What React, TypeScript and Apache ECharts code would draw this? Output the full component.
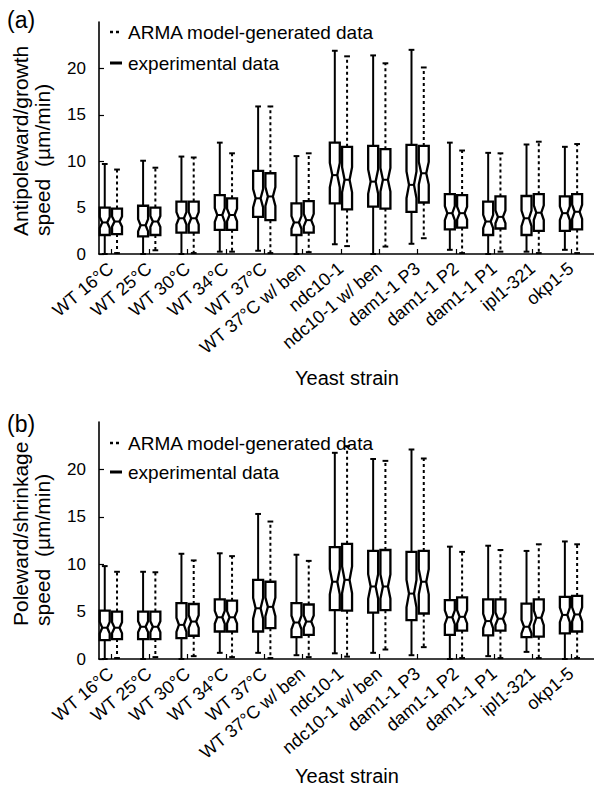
import React, { useEffect, useRef } from "react";
import * as echarts from "echarts";

const strains = [
  "WT 16°C", "WT 25°C", "WT 30°C", "WT 34°C", "WT 37°C", "WT 37°C w/ ben",
  "ndc10-1", "ndc10-1 w/ ben", "dam1-1 P3", "dam1-1 P2", "dam1-1 P1", "ipl1-321", "okp1-5",
];
const strainTicks = [1, 2, 3, 4, 5, 6, 7, 8, 9, 10, 11, 12, 13];
const yTicks = [0, 5, 10, 15, 20];

// each row: [lower whisker, Q1, median, Q3, upper whisker] in µm/min
const growthExperimental = [
  [0, 2.05, 3.4, 5.0, 9.7],
  [0, 1.9, 3.1, 5.2, 10.05],
  [0, 2.3, 3.85, 5.65, 10.5],
  [0.25, 2.6, 4.2, 6.35, 12.0],
  [0.35, 4.0, 6.0, 8.95, 15.9],
  [0, 2.05, 3.4, 5.45, 10.55],
  [1.05, 5.45, 8.5, 12.0, 21.9],
  [0, 5.1, 7.8, 11.65, 21.4],
  [1.1, 4.55, 7.45, 11.75, 22.0],
  [0.45, 2.65, 4.4, 6.45, 12.0],
  [0, 2.05, 3.5, 5.65, 10.9],
  [0.25, 2.05, 3.85, 6.25, 11.8],
  [0.45, 2.5, 4.4, 6.2, 11.55],
];
const growthArma = [
  [0.1, 2.15, 3.5, 4.9, 9.1],
  [0.4, 2.05, 3.5, 5.0, 9.3],
  [0.1, 2.3, 3.85, 5.65, 10.4],
  [0.25, 2.6, 4.2, 6.0, 10.85],
  [0.1, 3.65, 6.2, 8.7, 15.9],
  [0.2, 2.3, 3.65, 5.7, 10.85],
  [0.85, 4.8, 8.0, 11.55, 21.3],
  [0.8, 4.9, 8.0, 11.3, 20.55],
  [1.7, 5.55, 8.7, 11.65, 20.1],
  [0.1, 2.85, 4.4, 6.35, 11.15],
  [0.25, 2.75, 4.0, 6.2, 10.85],
  [0.1, 2.5, 4.45, 6.45, 12.1],
  [0.1, 2.65, 4.55, 6.45, 11.85],
];
const shrinkExperimental = [
  [0, 2.0, 3.3, 5.1, 9.8],
  [0, 2.1, 3.4, 5.0, 9.2],
  [0, 2.2, 3.6, 5.9, 11.1],
  [0.65, 2.9, 4.4, 6.3, 11.15],
  [0.65, 2.9, 5.35, 8.35, 15.3],
  [0.4, 2.3, 3.85, 5.9, 11.0],
  [0.6, 5.15, 8.15, 11.8, 21.75],
  [0.65, 4.9, 7.65, 11.4, 21.1],
  [0.4, 4.1, 6.9, 11.3, 22.1],
  [0, 2.55, 4.4, 6.2, 11.85],
  [0.3, 2.5, 4.0, 6.3, 11.95],
  [0.75, 2.3, 3.4, 5.85, 11.4],
  [0, 2.7, 4.65, 6.55, 12.4],
];
const shrinkArma = [
  [0.1, 2.1, 3.3, 5.0, 9.2],
  [0.2, 2.1, 3.4, 5.0, 9.15],
  [0.3, 2.45, 3.95, 5.8, 10.4],
  [0.2, 2.9, 4.4, 6.15, 10.85],
  [0.1, 3.25, 5.5, 8.15, 14.5],
  [0.2, 2.55, 3.95, 5.75, 10.35],
  [0.25, 5.1, 8.35, 12.15, 22.45],
  [1.0, 5.15, 7.65, 11.5, 20.9],
  [1.25, 4.8, 8.15, 11.4, 21.15],
  [0.1, 3.0, 4.45, 6.5, 11.3],
  [0.1, 3.0, 4.25, 6.3, 11.5],
  [0.1, 2.35, 4.35, 6.3, 12.1],
  [0.1, 2.9, 4.7, 6.65, 12.1],
];

const FONT = "'Liberation Sans', Arial, Helvetica, sans-serif";

function boxSeries(name: string, stats: number[][], axisIndex: number, offset: number, dashed: boolean) {
  return {
    type: "custom",
    name,
    xAxisIndex: axisIndex,
    yAxisIndex: axisIndex,
    data: stats.map((s, i) => [strainTicks[i], ...s]),
    encode: { x: 0, y: [1, 2, 3, 4, 5] },
    renderItem: (params: any, api: any) => {
      const g = api.value(0) + offset;
      const lo = api.value(1), q1 = api.value(2), md = api.value(3), q3 = api.value(4), hi = api.value(5);
      const c = (v: number) => api.coord([g, v]);
      const xc = c(md)[0];
      const hw = api.size([0.13, 0])[0];
      const cw = api.size([0.075, 0])[0];
      const hn = hw * 0.5;
      const nd = 0.2 * (q3 - q1);
      const yLo = c(lo)[1], yQ1 = c(q1)[1], yMd = c(md)[1], yQ3 = c(q3)[1], yHi = c(hi)[1];
      const yNt = c(Math.min(q3, md + nd))[1];
      const yNb = c(Math.max(q1, md - nd))[1];
      const wStyle = { stroke: "#000", lineWidth: 2, lineDash: dashed ? [3, 3] : null, fill: null };
      const cStyle = { stroke: "#000", lineWidth: 2 };
      return {
        type: "group",
        children: [
          { type: "line", shape: { x1: xc, y1: yQ3, x2: xc, y2: yHi }, style: wStyle },
          { type: "line", shape: { x1: xc, y1: yQ1, x2: xc, y2: yLo }, style: wStyle },
          { type: "line", shape: { x1: xc - cw, y1: yHi, x2: xc + cw, y2: yHi }, style: cStyle },
          { type: "line", shape: { x1: xc - cw, y1: yLo, x2: xc + cw, y2: yLo }, style: cStyle },
          {
            type: "polygon",
            shape: {
              points: [
                [xc - hw, yQ3], [xc + hw, yQ3], [xc + hw, yNt], [xc + hn, yMd], [xc + hw, yNb],
                [xc + hw, yQ1], [xc - hw, yQ1], [xc - hw, yNb], [xc - hn, yMd], [xc - hw, yNt],
              ],
            },
            style: { fill: "#fff", stroke: "#000", lineWidth: 2.3, lineJoin: "miter" },
          },
          { type: "line", shape: { x1: xc - hn, y1: yMd, x2: xc + hn, y2: yMd }, style: { stroke: "#000", lineWidth: 2 } },
        ],
      };
    },
  };
}

function xAxisDef(gridIndex: number) {
  return {
    type: "value",
    gridIndex,
    min: 0.69,
    max: 13.6,
    axisLine: { show: true, onZero: false, lineStyle: { color: "#000", width: 1.6 } },
    axisTick: { show: true, inside: true, length: 5, customValues: strainTicks, lineStyle: { color: "#000", width: 1.2 } },
    axisLabel: {
      show: true,
      customValues: strainTicks,
      formatter: (v: number) => strains[Math.round(v) - 1] ?? "",
      rotate: 40,
      margin: 12,
      fontSize: 18,
      color: "#000",
      fontFamily: FONT,
    },
    splitLine: { show: false },
  };
}

function yAxisDef(gridIndex: number) {
  return {
    type: "value",
    gridIndex,
    min: 0,
    max: 25,
    axisLine: { show: true, onZero: false, lineStyle: { color: "#000", width: 1.6 } },
    axisTick: { show: true, inside: true, length: 5, customValues: yTicks, lineStyle: { color: "#000", width: 1.2 } },
    axisLabel: { show: true, customValues: yTicks, margin: 13, fontSize: 17, color: "#000", fontFamily: FONT },
    splitLine: { show: false },
  };
}

function legendGraphics(y1: number, y2: number) {
  return [
    { type: "line", shape: { x1: 110, y1, x2: 122, y2: y1 }, style: { stroke: "#000", lineWidth: 2.5, lineDash: [3, 3] } },
    { type: "text", x: 128, y: y1, style: { text: "ARMA model-generated data", font: `19px ${FONT}`, fill: "#000", verticalAlign: "middle", align: "left" } },
    { type: "line", shape: { x1: 110, y1: y2, x2: 122, y2 }, style: { stroke: "#000", lineWidth: 3 } },
    { type: "text", x: 128, y: y2, style: { text: "experimental data", font: `19px ${FONT}`, fill: "#000", verticalAlign: "middle", align: "left" } },
  ];
}

export default function App() {
  const ref = useRef<HTMLDivElement>(null);
  useEffect(() => {
    if (!ref.current) return;
    const chart = echarts.init(ref.current, null, { renderer: "svg" });
    chart.setOption({
      animation: false,
      backgroundColor: "#fff",
      textStyle: { fontFamily: FONT },
      grid: [
        { left: 99, top: 22, right: 0, height: 232 },
        { left: 99, top: 422, right: 0, height: 237 },
      ],
      xAxis: [xAxisDef(0), xAxisDef(1)],
      yAxis: [yAxisDef(0), yAxisDef(1)],
      series: [
        boxSeries("experimental data (a)", growthExperimental, 0, -0.16, false),
        boxSeries("ARMA model-generated data (a)", growthArma, 0, 0.16, true),
        boxSeries("experimental data (b)", shrinkExperimental, 1, -0.16, false),
        boxSeries("ARMA model-generated data (b)", shrinkArma, 1, 0.16, true),
      ],
      graphic: [
        { type: "text", x: 7, y: 20, style: { text: "(a)", font: `23px ${FONT}`, fill: "#000", verticalAlign: "middle" } },
        { type: "text", x: 7, y: 424, style: { text: "(b)", font: `23px ${FONT}`, fill: "#000", verticalAlign: "middle" } },
        {
          type: "text", x: 31, y: 236, rotation: Math.PI / 2,
          style: { text: "Antipoleward/growth\nspeed  (µm/min)", font: `21px ${FONT}`, lineHeight: 22, fill: "#000", align: "left", verticalAlign: "middle" },
        },
        {
          type: "text", x: 31, y: 626, rotation: Math.PI / 2,
          style: { text: "Poleward/shrinkage\nspeed  (µm/min)", font: `21px ${FONT}`, lineHeight: 22, fill: "#000", align: "left", verticalAlign: "middle" },
        },
        { type: "text", x: 347, y: 378, style: { text: "Yeast strain", font: `20px ${FONT}`, fill: "#000", align: "center", verticalAlign: "middle" } },
        { type: "text", x: 347, y: 776, style: { text: "Yeast strain", font: `20px ${FONT}`, fill: "#000", align: "center", verticalAlign: "middle" } },
        ...legendGraphics(32, 63),
        ...legendGraphics(443, 472),
      ],
    });
    return () => chart.dispose();
  }, []);
  return <div ref={ref} style={{ position: "fixed", left: 0, top: 0, width: 594, height: 790, background: "#fff" }} />;
}
